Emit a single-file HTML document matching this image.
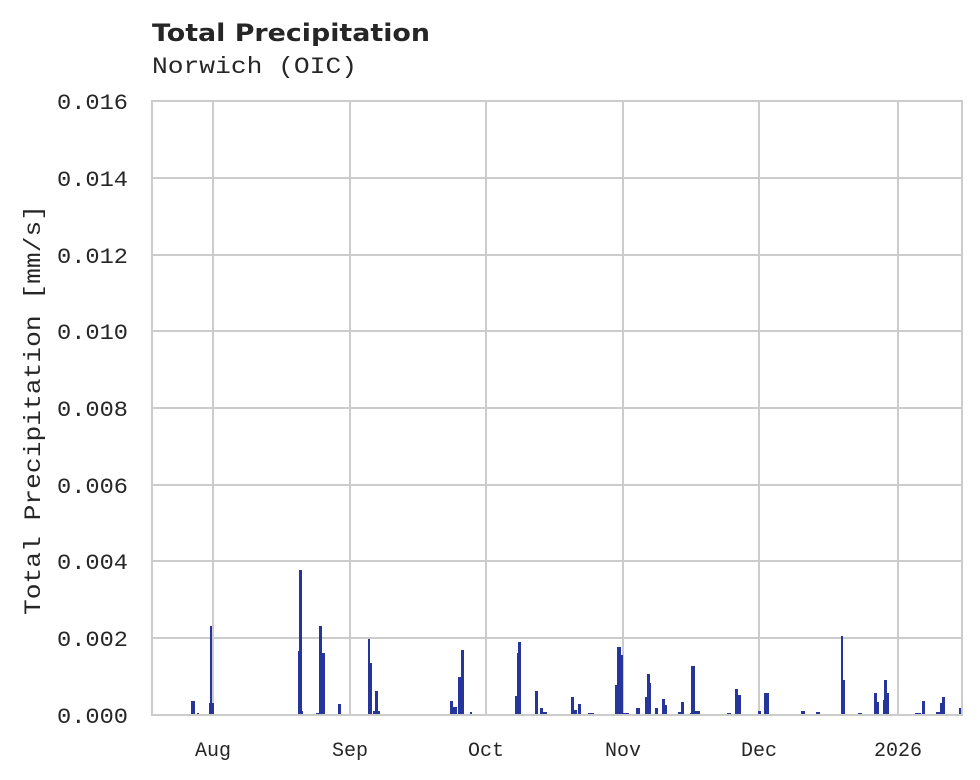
<!DOCTYPE html>
<html><head><meta charset="utf-8"><style>
html,body{margin:0;padding:0;background:#fff;}
svg{display:block;}
.t{font-family:"Liberation Mono",monospace;fill:#262626;}
</style></head><body>
<svg width="980" height="780" viewBox="0 0 980 780" xmlns="http://www.w3.org/2000/svg">
<rect width="980" height="780" fill="#fff"/>
<text x="152" y="41" font-family="DejaVu Sans,sans-serif" font-weight="bold" font-size="24" fill="#262626" textLength="278" lengthAdjust="spacingAndGlyphs">Total Precipitation</text>
<text x="152" y="73" class="t" font-size="23" textLength="205" lengthAdjust="spacingAndGlyphs">Norwich (OIC)</text>
<g stroke="#cccccc" stroke-width="2">
<line x1="152" y1="178" x2="962" y2="178"/>
<line x1="152" y1="255" x2="962" y2="255"/>
<line x1="152" y1="331" x2="962" y2="331"/>
<line x1="152" y1="408" x2="962" y2="408"/>
<line x1="152" y1="485" x2="962" y2="485"/>
<line x1="152" y1="561" x2="962" y2="561"/>
<line x1="152" y1="638" x2="962" y2="638"/>
<line x1="213" y1="101" x2="213" y2="715"/>
<line x1="350" y1="101" x2="350" y2="715"/>
<line x1="486" y1="101" x2="486" y2="715"/>
<line x1="623" y1="101" x2="623" y2="715"/>
<line x1="759" y1="101" x2="759" y2="715"/>
<line x1="898" y1="101" x2="898" y2="715"/>
</g>
<g fill="#25359a">
<rect x="191" y="701" width="4" height="14"/><rect x="197" y="713" width="2" height="2"/>
<rect x="209" y="703" width="5" height="12"/><rect x="210" y="626" width="2" height="89"/>
<rect x="298" y="651" width="2" height="64"/><rect x="299" y="570" width="3" height="145"/><rect x="301" y="711" width="2" height="4"/>
<rect x="316" y="713" width="3" height="2"/><rect x="319" y="626" width="3" height="89"/><rect x="322" y="653" width="3" height="62"/>
<rect x="338" y="704" width="3" height="11"/>
<rect x="368" y="639" width="2" height="76"/><rect x="370" y="663" width="2" height="52"/><rect x="373" y="711" width="7" height="4"/><rect x="375" y="691" width="3" height="24"/>
<rect x="450" y="701" width="3" height="14"/><rect x="453" y="707" width="4" height="8"/><rect x="458" y="677" width="3" height="38"/><rect x="461" y="650" width="3" height="65"/><rect x="470" y="712" width="2" height="3"/>
<rect x="515" y="696" width="2" height="19"/><rect x="517" y="653" width="2" height="62"/><rect x="518" y="642" width="3" height="73"/>
<rect x="535" y="691" width="3" height="24"/><rect x="540" y="708" width="3" height="7"/><rect x="543" y="712" width="4" height="3"/>
<rect x="571" y="697" width="3" height="18"/><rect x="574" y="710" width="3" height="5"/><rect x="578" y="704" width="3" height="11"/><rect x="588" y="713" width="6" height="2"/>
<rect x="615" y="685" width="2" height="30"/><rect x="617" y="647" width="4" height="68"/><rect x="621" y="655" width="2" height="60"/><rect x="623" y="713" width="6" height="2"/>
<rect x="636" y="708" width="4" height="7"/><rect x="645" y="697" width="2" height="18"/><rect x="647" y="674" width="3" height="41"/><rect x="650" y="683" width="1" height="32"/>
<rect x="655" y="708" width="3" height="7"/><rect x="662" y="699" width="3" height="16"/><rect x="665" y="705" width="2" height="10"/>
<rect x="678" y="712" width="3" height="3"/><rect x="681" y="702" width="3" height="13"/>
<rect x="690" y="713" width="2" height="2"/><rect x="691" y="666" width="4" height="49"/><rect x="695" y="711" width="5" height="4"/>
<rect x="727" y="713" width="4" height="2"/><rect x="735" y="689" width="3" height="26"/><rect x="738" y="695" width="3" height="20"/>
<rect x="758" y="711" width="3" height="4"/><rect x="764" y="693" width="5" height="22"/>
<rect x="801" y="711" width="4" height="4"/><rect x="816" y="712" width="4" height="3"/>
<rect x="841" y="636" width="2" height="79"/><rect x="843" y="680" width="2" height="35"/>
<rect x="858" y="713" width="4" height="2"/>
<rect x="874" y="693" width="3" height="22"/><rect x="877" y="702" width="2" height="13"/>
<rect x="883" y="700" width="1" height="15"/><rect x="884" y="680" width="3" height="35"/><rect x="887" y="693" width="2" height="22"/>
<rect x="915" y="713" width="6" height="2"/><rect x="922" y="701" width="3" height="14"/>
<rect x="936" y="712" width="4" height="3"/><rect x="940" y="703" width="2" height="12"/><rect x="942" y="697" width="3" height="18"/>
<rect x="959" y="708" width="3" height="7"/>
</g>
<rect x="152" y="101" width="810" height="614" fill="none" stroke="#cccccc" stroke-width="2"/>
<g class="t" font-size="22">
<text x="57" y="109" textLength="71" lengthAdjust="spacingAndGlyphs">0.016</text>
<text x="57" y="186" textLength="71" lengthAdjust="spacingAndGlyphs">0.014</text>
<text x="57" y="263" textLength="71" lengthAdjust="spacingAndGlyphs">0.012</text>
<text x="57" y="339" textLength="71" lengthAdjust="spacingAndGlyphs">0.010</text>
<text x="57" y="416" textLength="71" lengthAdjust="spacingAndGlyphs">0.008</text>
<text x="57" y="493" textLength="71" lengthAdjust="spacingAndGlyphs">0.006</text>
<text x="57" y="569" textLength="71" lengthAdjust="spacingAndGlyphs">0.004</text>
<text x="57" y="646" textLength="71" lengthAdjust="spacingAndGlyphs">0.002</text>
<text x="57" y="723" textLength="71" lengthAdjust="spacingAndGlyphs">0.000</text>
</g>
<g class="t" font-size="20" text-anchor="middle">
<text x="213" y="756">Aug</text>
<text x="350" y="756">Sep</text>
<text x="486" y="756">Oct</text>
<text x="623" y="756">Nov</text>
<text x="759" y="756">Dec</text>
<text x="898" y="756">2026</text>
</g>
<text class="t" font-size="23" x="-615" y="40" transform="rotate(-90)" textLength="410" lengthAdjust="spacingAndGlyphs">Total Precipitation [mm/s]</text>
</svg>
</body></html>
